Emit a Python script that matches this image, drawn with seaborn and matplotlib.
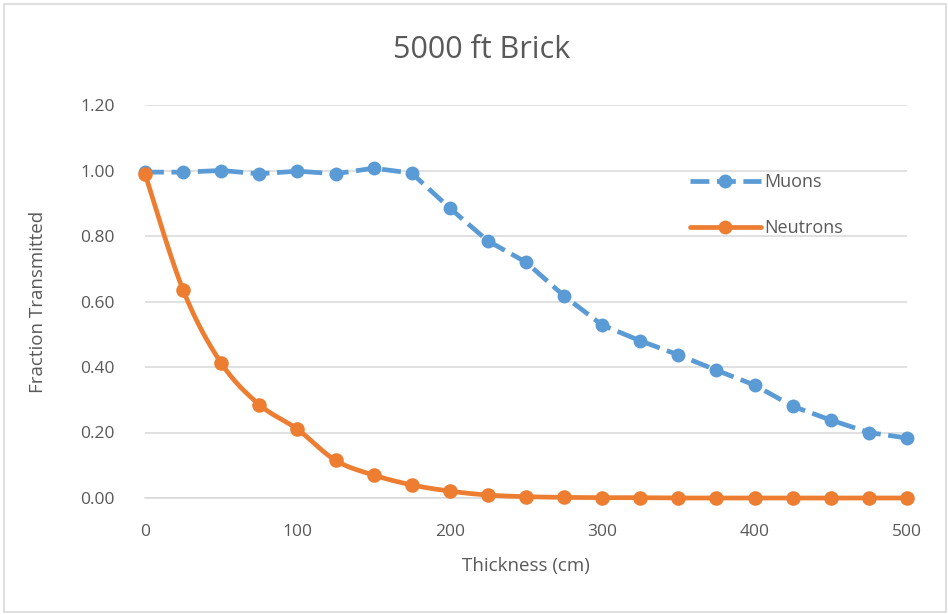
import numpy as np
import pandas as pd
import matplotlib
matplotlib.use("Agg")
import matplotlib.pyplot as plt
from matplotlib.lines import Line2D
from matplotlib.patches import Rectangle
import seaborn as sns

thickness = [0, 25, 50, 75, 100, 125, 150, 175, 200, 225, 250,
             275, 300, 325, 350, 375, 400, 425, 450, 475, 500]
muons = [0.995, 0.995, 1.000, 0.990, 0.998, 0.990, 1.007, 0.992, 0.885, 0.785, 0.720,
         0.617, 0.528, 0.480, 0.437, 0.390, 0.345, 0.280, 0.238, 0.200, 0.183]
neutrons = [0.990, 0.635, 0.412, 0.285, 0.210, 0.115, 0.070, 0.040, 0.021, 0.009, 0.004,
            0.002, 0.001, 0.001, 0.000, 0.000, 0.000, 0.000, 0.000, 0.000, 0.000]

title = "5000 ft Brick"
xlabel = "Thickness (cm)"
ylabel = "Fraction Transmitted"
xticks = [0, 100, 200, 300, 400, 500]
yticks = [0.0, 0.2, 0.4, 0.6, 0.8, 1.0, 1.2]

BLUE = "#5b9bd5"
ORANGE = "#ed7d31"
TXT = "#595959"
GRID = "#d9d9d9"
DASH = (0, (4, 1.6))


def smooth(x, y, n=30):
    """Catmull-Rom style smoothing through every point."""
    x = np.asarray(x, float)
    y = np.asarray(y, float)
    px = np.concatenate([[x[0]], x, [x[-1]]])
    py = np.concatenate([[y[0]], y, [y[-1]]])
    xs, ys = [], []
    t = np.linspace(0, 1, n, endpoint=False)
    for i in range(1, len(px) - 2):
        p0, p1, p2, p3 = (np.array([px[j], py[j]]) for j in (i - 1, i, i + 1, i + 2))
        c1 = p1 + (p2 - p0) / 6
        c2 = p2 - (p3 - p1) / 6
        b = ((1 - t) ** 3)[:, None] * p1 + (3 * (1 - t) ** 2 * t)[:, None] * c1 \
            + (3 * (1 - t) * t ** 2)[:, None] * c2 + (t ** 3)[:, None] * p2
        xs.append(b[:, 0])
        ys.append(b[:, 1])
    xs.append([x[-1]])
    ys.append([y[-1]])
    return np.concatenate(xs), np.concatenate(ys)


sns.set_theme(style="white")
plt.rcParams["font.family"] = ["Open Sans", "DejaVu Sans"]

fig = plt.figure(figsize=(9.48, 6.14), dpi=100)
fig.patches.append(Rectangle((4 / 948, 2 / 614), 942 / 948, 608 / 614, transform=fig.transFigure,
                             fill=False, edgecolor=GRID, linewidth=1.2))
ax = fig.add_axes([145 / 948, 1 - 498 / 614, 762 / 948, 393 / 614])

df = pd.DataFrame({"thickness": thickness, "muons": muons, "neutrons": neutrons})
sx, sy = smooth(thickness, neutrons)
curve = pd.DataFrame({"thickness": sx, "neutrons": sy})

sns.lineplot(data=df, x="thickness", y="muons", ax=ax, color=BLUE, linewidth=3.4,
             marker="o", markersize=10, markeredgewidth=0, dashes=False,
             linestyle=DASH, clip_on=False, zorder=3)
sns.lineplot(data=curve, x="thickness", y="neutrons", ax=ax, color=ORANGE, linewidth=3.4,
             sort=False, estimator=None, clip_on=False, zorder=4)
sns.scatterplot(data=df, x="thickness", y="neutrons", ax=ax, color=ORANGE, s=110,
                linewidth=0, clip_on=False, zorder=5)

ax.set_xlim(0, 500)
ax.set_ylim(0, 1.2)
ax.set_xticks(xticks)
ax.set_yticks(yticks)
ax.set_xticklabels([str(v) for v in xticks])
ax.set_yticklabels([f"{v:.2f}" for v in yticks])
ax.tick_params(axis="both", labelsize=12.5, colors=TXT, length=0)
ax.tick_params(axis="x", pad=19)
ax.tick_params(axis="y", pad=22)
ax.grid(axis="y", color=GRID, linewidth=1.1)
ax.grid(axis="x", visible=False)
for side in ("top", "right", "left"):
    ax.spines[side].set_visible(False)
ax.spines["bottom"].set_color(GRID)
ax.spines["bottom"].set_linewidth(1.1)
ax.spines["bottom"].set_zorder(1)

ax.set_xlabel(xlabel, fontsize=13.5, color=TXT, labelpad=12)
ax.set_ylabel(ylabel, fontsize=13.5, color=TXT, labelpad=24)
fig.text(482 / 948, 1 - 50 / 614, title, ha="center", va="center", fontsize=22, color=TXT)

handles = [
    Line2D([], [], color=BLUE, linewidth=3.4, linestyle=DASH, marker="o",
           markersize=10, markeredgewidth=0),
    Line2D([], [], color=ORANGE, linewidth=3.4, marker="o", markersize=10, markeredgewidth=0),
]
leg = ax.legend(handles, ["Muons", "Neutrons"], loc="upper left",
                bbox_to_anchor=(683 / 948, 1 - 166 / 614), bbox_transform=fig.transFigure,
                frameon=False, fontsize=13, handlelength=3.9, labelspacing=1.55,
                handletextpad=0.2, borderaxespad=0)
for t in leg.get_texts():
    t.set_color(TXT)

fig.savefig("out.png", dpi=100)
